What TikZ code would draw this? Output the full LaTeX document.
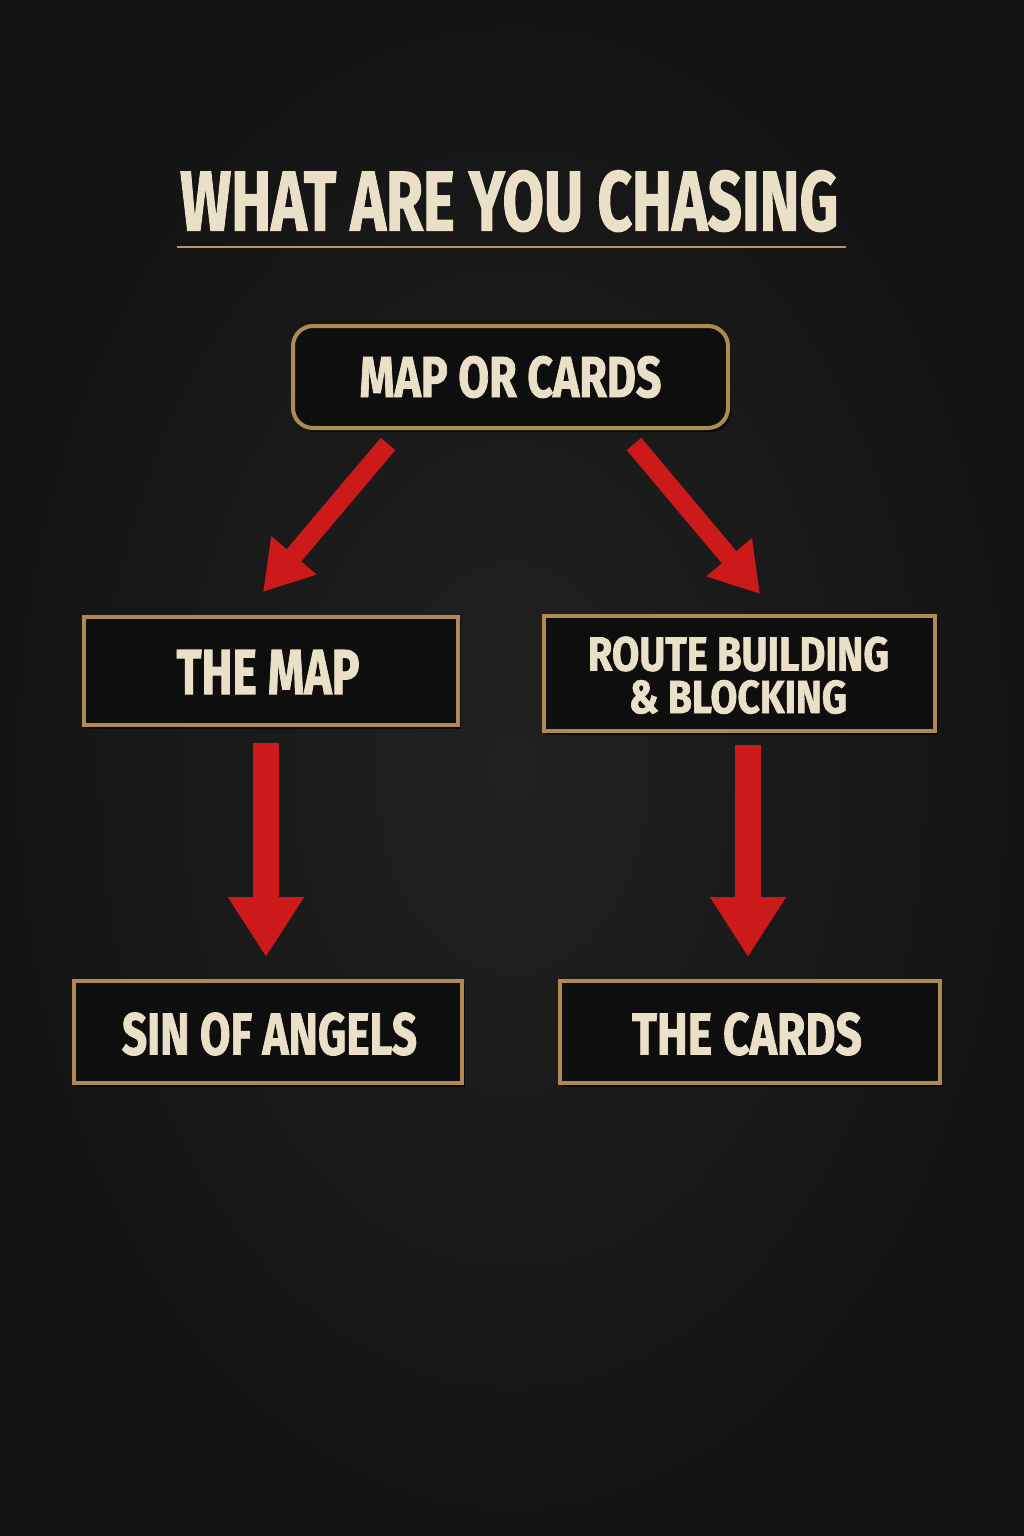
\documentclass[tikz,border=0pt]{standalone}
\usepackage{fontspec}
\setmainfont{Fira Sans}[BoldFeatures={FakeBold=1.6}]
\usetikzlibrary{arrows.meta,shadows}
\definecolor{bgin}{HTML}{212121}
\definecolor{bgout}{HTML}{141414}
\definecolor{boxfill}{HTML}{0E0E0E}
\definecolor{goldc}{HTML}{B08A50}
\definecolor{creamc}{HTML}{EAE0C8}
\definecolor{redc}{HTML}{CC1A1A}
\newcommand{\capfit}[3]{\resizebox{#1}{#2}{\bfseries #3}}
\tikzset{
  plate/.style={draw=goldc, line width=4pt, fill=boxfill, inner sep=0pt,
    drop shadow={shadow xshift=3pt, shadow yshift=-4pt, opacity=0.6, fill=black}},
  roundplate/.style={plate, rounded corners=20pt},
  lbl/.style={text=creamc, inner sep=0pt},
  redarrow/.style={draw=redc, line width=#1},
  diag/.style={redarrow=19pt, -{Triangle[width=56pt,length=48pt]}},
  vert/.style={redarrow=26pt, -{Triangle[width=72pt,length=60pt]}}
}
\begin{document}
\begin{tikzpicture}[x=1pt,y=-1pt]
\useasboundingbox (0,0) rectangle (1024,1536);
\shade[inner color=bgin, outer color=bgout] (0,0) rectangle (1024,1536);
% title
\node[lbl, anchor=south west] (title) at (180,232) {\capfit{658pt}{60pt}{WHAT ARE YOU CHASING}};
\draw[goldc!85!creamc, line width=1.6pt] (177,247) coordinate (ul1) -- (846,247) coordinate (ul2);
% boxes
\draw[roundplate] (293,326) rectangle (728,428);
\node[lbl] (top) at (510.5,377) {\capfit{302pt}{41pt}{MAP OR CARDS}};
\draw[plate] (84,617) rectangle (458,725);
\node[lbl] (map) at (268,672) {\capfit{183pt}{44pt}{THE MAP}};
\draw[plate] (544,616) rectangle (935,731);
\node[lbl] (route1) at (738.5,654) {\capfit{301pt}{34pt}{ROUTE BUILDING}};
\node[lbl] (route2) at (738,697) {\capfit{218pt}{33pt}{\&~BLOCKING}};
\draw[plate] (74,981) rectangle (462,1083);
\node[lbl] (sin) at (269.5,1034) {\capfit{295pt}{42pt}{SIN OF ANGELS}};
\draw[plate] (560,981) rectangle (940,1083);
\node[lbl] (cards) at (747,1034) {\capfit{230pt}{42pt}{THE CARDS}};
% arrow end points
\coordinate (s1) at (388,444);
\coordinate (e1) at (263,592);
\coordinate (s2) at (634,444);
\coordinate (e2) at (760,594);
\coordinate (s3) at (266,743);
\coordinate (e3) at (266,957);
\coordinate (s4) at (748,745);
\coordinate (e4) at (748,957);
\draw[diag] (s1) -- (e1);
\draw[diag] (s2) -- (e2);
\draw[vert] (s3) -- (e3);
\draw[vert] (s4) -- (e4);
\end{tikzpicture}
\end{document}
